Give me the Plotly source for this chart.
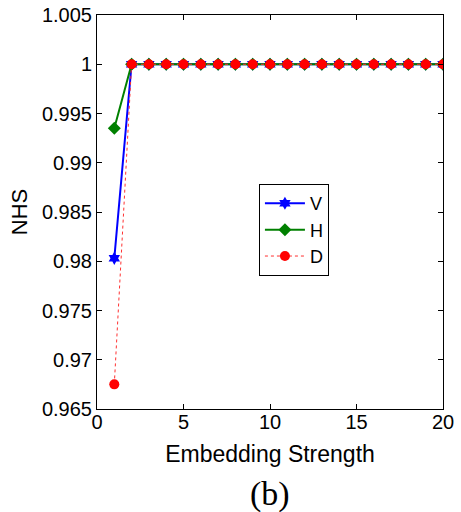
import plotly.graph_objects as go

x = list(range(1, 21))
v_vals = [0.9803] + [1.0] * 19
h_vals = [0.9935] + [1.0] * 19
d_vals = [0.9675] + [1.0] * 19

x_ticks = [0, 5, 10, 15, 20]
y_ticks = [0.965, 0.97, 0.975, 0.98, 0.985, 0.99, 0.995, 1.0, 1.005]
y_labels = ["0.965", "0.97", "0.975", "0.98", "0.985", "0.99", "0.995", "1", "1.005"]

font = "Liberation Sans, Arial, sans-serif"

fig = go.Figure()
fig.add_trace(go.Scatter(x=x, y=v_vals, name="V", mode="lines+markers",
                         line=dict(color="#0000ff", width=2),
                         marker=dict(symbol="hexagram", size=10, color="#0000ff")))
fig.add_trace(go.Scatter(x=x, y=h_vals, name="H", mode="lines+markers",
                         line=dict(color="#008000", width=2),
                         marker=dict(symbol="diamond", size=10, color="#008000")))
fig.add_trace(go.Scatter(x=x, y=d_vals, name="D", mode="lines+markers",
                         line=dict(color="#ff3030", width=1, dash="dot"),
                         marker=dict(symbol="circle", size=10, color="#ff0000")))

axis_common = dict(showline=True, linecolor="black", linewidth=1, mirror="ticks",
                   ticks="inside", ticklen=5, tickcolor="black", showgrid=False,
                   zeroline=False, automargin=False,
                   tickfont=dict(family=font, size=20, color="black"))

fig.update_layout(
    width=461, height=512,
    margin=dict(l=97, r=18, t=15, b=103),
    paper_bgcolor="white", plot_bgcolor="white",
    showlegend=True,
    legend=dict(x=0.468, y=0.571, xanchor="left", yanchor="top",
                bordercolor="black", borderwidth=1, bgcolor="white",
                font=dict(family=font, size=18, color="black"),
                itemwidth=40, tracegroupgap=0),
    xaxis=dict(range=[0, 20], tickvals=x_ticks, ticktext=[str(t) for t in x_ticks],
               ticklabelstandoff=-5,
               title=dict(text="Embedding Strength", font=dict(family=font, size=23, color="black"),
                          standoff=13),
               **axis_common),
    yaxis=dict(range=[0.965, 1.005], tickvals=y_ticks, ticktext=y_labels,
               title=dict(text="NHS", font=dict(family=font, size=22, color="black"), standoff=8),
               **axis_common),
)

fig.add_annotation(text="(b)", xref="paper", yref="paper", x=0.5, y=-0.216,
                   xanchor="center", yanchor="middle", showarrow=False,
                   font=dict(family="Liberation Serif, serif", size=34, color="black"))

fig.write_html("out.html")
